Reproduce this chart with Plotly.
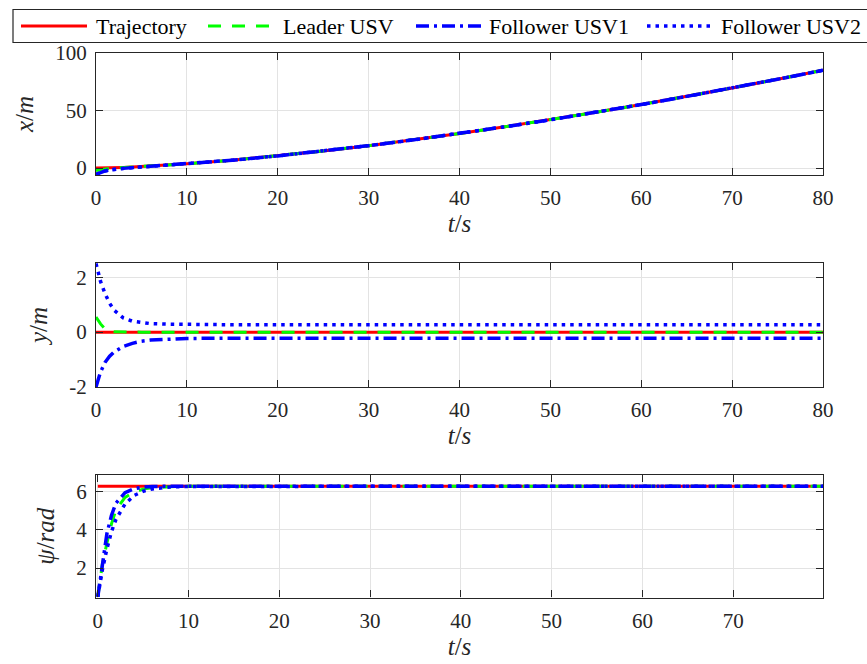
import plotly.graph_objects as go

W, H = 867, 664

# ---------------- data ----------------
t = [0, 0.5, 1, 1.5, 2, 3, 4, 5, 6, 8, 10, 15, 20, 25, 30, 35, 40, 45, 50, 55, 60, 65, 70, 75, 80]

names = ["Trajectory", "Leader USV", "Follower USV1", "Follower USV2"]

x_traj = [0, 0.04, 0.12, 0.22, 0.34, 0.62, 0.95, 1.33, 1.75, 2.69, 3.76, 6.9, 10.6, 14.85, 19.5, 24.6, 30.05, 35.9, 42.0, 48.5, 55.2, 62.3, 69.6, 77.2, 85.0]
x_lead = [-2.0, -1.2, -0.6, -0.25, 0.0, 0.45, 0.9, 1.33, 1.75, 2.69, 3.76, 6.9, 10.6, 14.85, 19.5, 24.6, 30.05, 35.9, 42.0, 48.5, 55.2, 62.3, 69.6, 77.2, 85.0]
x_f1 = [-5.5, -3.6, -2.4, -1.6, -1.0, -0.25, 0.4, 0.95, 1.5, 2.55, 3.7, 6.9, 10.6, 14.85, 19.5, 24.6, 30.05, 35.9, 42.0, 48.5, 55.2, 62.3, 69.6, 77.2, 85.0]
x_f2 = [-5.5, -3.7, -2.5, -1.7, -1.05, -0.3, 0.35, 0.9, 1.45, 2.5, 3.68, 6.9, 10.6, 14.85, 19.5, 24.6, 30.05, 35.9, 42.0, 48.5, 55.2, 62.3, 69.6, 77.2, 85.0]

y_traj = [0, 0, 0, 0, 0, 0, 0, 0, 0, 0, 0, 0, 0, 0, 0, 0, 0, 0, 0, 0, 0, 0, 0, 0, 0]
y_lead = [0.55, 0.3, 0.12, 0.04, 0.01, 0, 0, 0, 0, 0, 0, 0, 0, 0, 0, 0, 0, 0, 0, 0, 0, 0, 0, 0, 0]
y_f1 = [-2.0, -1.45, -1.1, -0.88, -0.72, -0.52, -0.41, -0.33, -0.29, -0.25, -0.23, -0.22, -0.22, -0.22, -0.22, -0.22, -0.22, -0.22, -0.22, -0.22, -0.22, -0.22, -0.22, -0.22, -0.22]
y_f2 = [2.5, 1.85, 1.4, 1.05, 0.8, 0.52, 0.4, 0.34, 0.31, 0.29, 0.28, 0.27, 0.27, 0.27, 0.27, 0.27, 0.27, 0.27, 0.27, 0.27, 0.27, 0.27, 0.27, 0.27, 0.27]

p_traj = [6.28, 6.28, 6.28, 6.28, 6.28, 6.28, 6.28, 6.28, 6.28, 6.28, 6.28, 6.28, 6.28, 6.28, 6.28, 6.28, 6.28, 6.28, 6.28, 6.28, 6.28, 6.28, 6.28, 6.28, 6.28]
p_lead = [0.5, 2.2, 3.3, 4.3, 5.05, 5.7, 5.98, 6.13, 6.2, 6.26, 6.28, 6.28, 6.28, 6.28, 6.28, 6.28, 6.28, 6.28, 6.28, 6.28, 6.28, 6.28, 6.28, 6.28, 6.28]
p_f1 = [0.5, 2.3, 3.8, 4.75, 5.4, 5.95, 6.15, 6.24, 6.27, 6.28, 6.28, 6.28, 6.28, 6.28, 6.28, 6.28, 6.28, 6.28, 6.28, 6.28, 6.28, 6.28, 6.28, 6.28, 6.28]
p_f2 = [0.5, 1.9, 3.0, 3.9, 4.55, 5.35, 5.8, 6.02, 6.14, 6.24, 6.27, 6.28, 6.28, 6.28, 6.28, 6.28, 6.28, 6.28, 6.28, 6.28, 6.28, 6.28, 6.28, 6.28, 6.28]

x_ticks_12 = [0, 10, 20, 30, 40, 50, 60, 70, 80]
x_ticks_3 = [0, 10, 20, 30, 40, 50, 60, 70]
y_ticks_1 = [0, 50, 100]
y_ticks_2 = [-2, 0, 2]
y_ticklabels_2 = ["-2", "0", "2"]
y_ticks_3 = [2, 4, 6]

# ---------------- styles ----------------
colors = ["#ff0000", "#00ff00", "#0000ff", "#0000ff"]
dashes = ["solid", "13px,11px", "13px,5px,3px,5px", "3.5px,5px"]
widths = [3, 3, 3.5, 3.5]
FONT = "Liberation Serif"
AX = "#262626"

panels = [
    ([x_traj, x_lead, x_f1, x_f2], "x", "y"),
    ([y_traj, y_lead, y_f1, y_f2], "x2", "y2"),
    ([p_traj, p_lead, p_f1, p_f2], "x3", "y3"),
]

fig = go.Figure()
for series, xa, ya in panels:
    for i, vals in enumerate(series):
        fig.add_trace(go.Scatter(
            x=t, y=vals, mode="lines", name=names[i], showlegend=False,
            line=dict(color=colors[i], width=widths[i], dash=dashes[i]),
            xaxis=xa, yaxis=ya))

def px_x(p):
    return p / W

def px_y(p):
    return 1 - p / H

xdom = [px_x(96), px_x(823)]
ydoms = [[px_y(175), px_y(53)], [px_y(387), px_y(263)], [px_y(597.5), px_y(475)]]

common = dict(
    showline=True, linecolor=AX, linewidth=1.2, mirror="ticks",
    ticks="inside", ticklen=7, tickwidth=1.2, tickcolor=AX,
    showgrid=True, gridcolor="#e3e3e3", gridwidth=1, zeroline=False,
    tickfont=dict(family=FONT, size=21, color=AX), automargin=False,
)

xt = dict(text="<i>t</i>/<i>s</i>", font=dict(family=FONT, size=25, color=AX), standoff=4)

layout = dict(
    width=W, height=H, margin=dict(l=0, r=0, t=0, b=0),
    paper_bgcolor="white", plot_bgcolor="white", showlegend=False,
    xaxis=dict(domain=xdom, anchor="y", range=[0, 80], tickvals=x_ticks_12, title=xt, ticklabelstandoff=4, **common),
    xaxis2=dict(domain=xdom, anchor="y2", range=[0, 80], tickvals=x_ticks_12, title=xt, ticklabelstandoff=4, **common),
    xaxis3=dict(domain=xdom, anchor="y3", range=[-0.2, 79.9], tickvals=x_ticks_3, title=xt, ticklabelstandoff=4, **common),
    yaxis=dict(domain=ydoms[0], anchor="x", range=[-6, 100], tickvals=y_ticks_1,
               title=dict(text="<i>x</i>/<i>m</i>", font=dict(family=FONT, size=25, color=AX), standoff=14),
               ticklabelstandoff=4, **common),
    yaxis2=dict(domain=ydoms[1], anchor="x2", range=[-2, 2.52], tickvals=y_ticks_2, ticktext=y_ticklabels_2,
                title=dict(text="<i>y</i>/<i>m</i>", font=dict(family=FONT, size=25, color=AX), standoff=14),
                ticklabelstandoff=4, **common),
    yaxis3=dict(domain=ydoms[2], anchor="x3", range=[0.46, 6.87], tickvals=y_ticks_3,
                title=dict(text="<i>ψ</i>/<i>rad</i>", font=dict(family=FONT, size=25, color=AX), standoff=14),
                ticklabelstandoff=4, **common),
)
fig.update_layout(**layout)

# ---------------- legend (drawn as a boxed row, like MATLAB) ----------------
shapes = [dict(type="rect", xref="paper", yref="paper",
               x0=px_x(13), x1=px_x(869), y0=px_y(42.5), y1=px_y(9.5),
               line=dict(color=AX, width=1.2), fillcolor="white")]
annotations = []
sample_x = [(21, 87), (208, 275), (416, 481), (647, 711)]
text_x = [94, 281, 487, 719]
ly = px_y(26)
for i in range(4):
    shapes.append(dict(type="line", xref="paper", yref="paper",
                       x0=px_x(sample_x[i][0]), x1=px_x(sample_x[i][1]), y0=ly, y1=ly,
                       line=dict(color=colors[i], width=widths[i], dash=dashes[i])))
    annotations.append(dict(xref="paper", yref="paper", x=px_x(text_x[i]), y=ly,
                            xanchor="left", yanchor="middle", showarrow=False, text=names[i],
                            font=dict(family=FONT, size=22, color="black")))
fig.update_layout(shapes=shapes, annotations=annotations)

fig.write_html("out.html")
